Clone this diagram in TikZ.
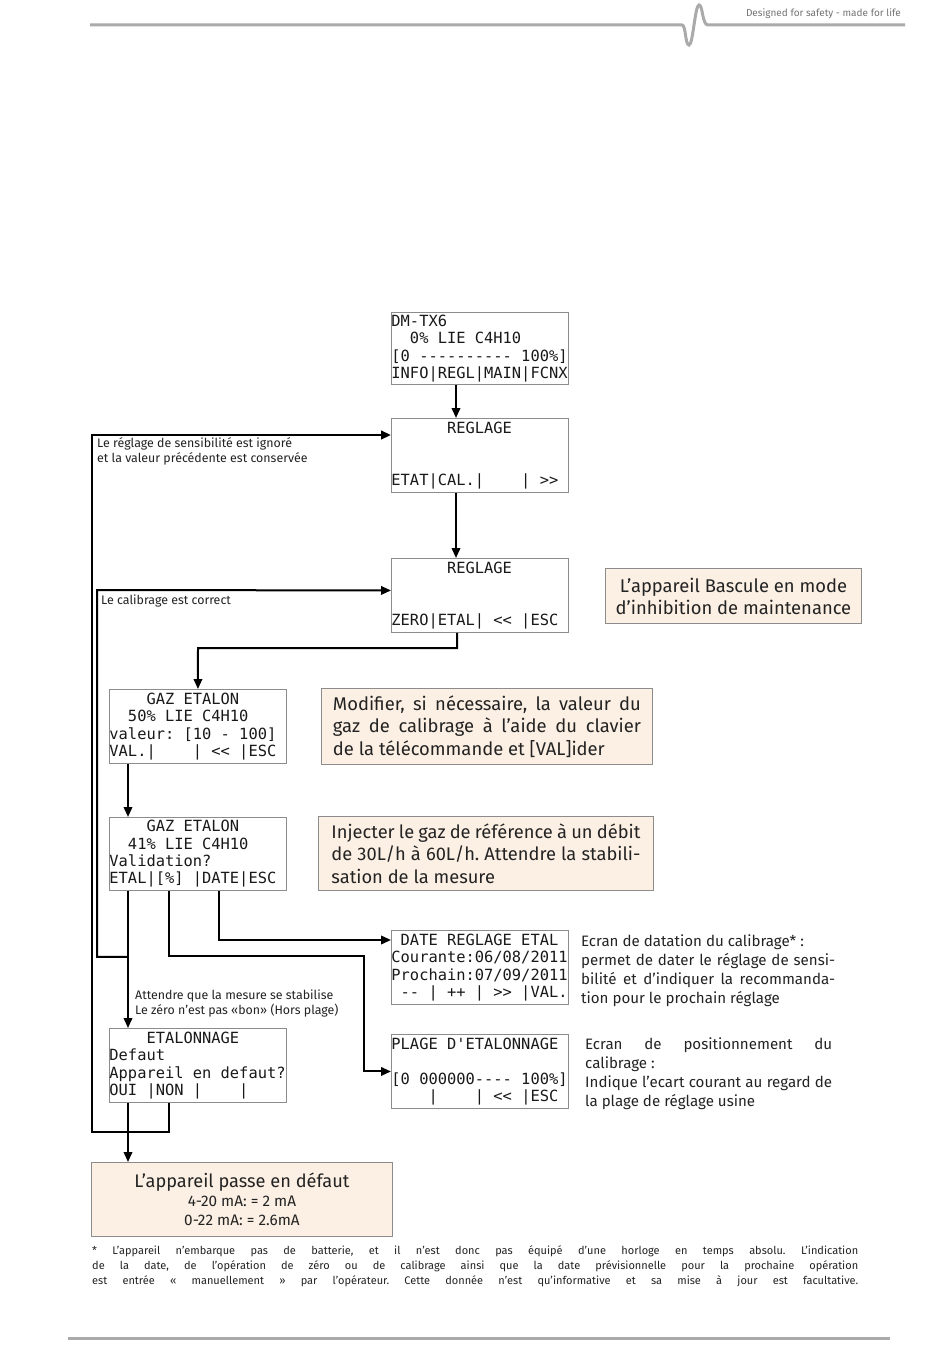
\documentclass[tikz,border=0pt]{standalone}
\usepackage{fontspec}
\setmainfont{Fira Sans}
\setmonofont{DejaVu Sans Mono}
\usetikzlibrary{arrows.meta,calc}
\definecolor{beige}{RGB}{252,240,228}
\definecolor{boxgray}{RGB}{140,140,140}
\definecolor{hdrgray}{RGB}{170,170,170}
\definecolor{txt}{RGB}{35,35,35}
\newcommand{\lsp}{\phantom{0}}
\begin{document}
\frenchspacing
\begin{tikzpicture}[x=1pt,y=-1pt,
  lcd/.style={draw=boxgray, line width=0.9pt, anchor=north west, minimum width=177pt,
    minimum height=74pt, inner xsep=0pt, inner ysep=0pt, text width=177pt, align=left,
    font=\ttfamily\fontsize{15.4}{17.4}\selectfont, text=black!90},
  note/.style={draw=boxgray, fill=beige, line width=0.9pt, anchor=north west, inner ysep=0pt,
    text=txt},
  conn/.style={line width=2pt},
  arr/.style={conn, -{Triangle[length=10pt,width=8.5pt]}},
  lbl/.style={font=\fontsize{12.4}{15}\selectfont, anchor=north west, inner sep=0pt, align=left, text=txt},
  side/.style={font=\fontsize{15.1}{19}\selectfont, anchor=north west, inner sep=0pt, align=left, text=txt},
]
\fill[white] (0,0) rectangle (950,1370);
\useasboundingbox (0,0) rectangle (950,1370);

% header and footer rules
\draw[hdrgray, line width=3pt] (90,25) -- (682,25)
  .. controls (686,25) and (685,45) .. (689,45)
  .. controls (693,45) and (695,5) .. (699,5)
  .. controls (703,5) and (702,25) .. (708,25) -- (905,25);
\node[anchor=east, inner sep=0pt, font=\fontsize{10}{11}\selectfont, text=black!55] (hdr) at (901,14) {Designed for safety - made for life};
\draw[hdrgray, line width=3pt] (68,1338) -- (890,1338);

% LCD screens
\node[lcd, minimum height=72pt] (b1) at (391,312)
  {DM-TX6\\\lsp\lsp0\%\lsp LIE\lsp C4H10\\{[}0\lsp----------\lsp100\%{]}\\INFO|REGL|MAIN|FCNX};
\node[lcd] (b2) at (391,418)
  {\lsp\lsp\lsp\lsp\lsp\lsp REGLAGE\\\mbox{}\\\mbox{}\\ETAT|CAL.|\lsp\lsp\lsp\lsp|\lsp>>};
\node[lcd] (b3) at (391,558)
  {\lsp\lsp\lsp\lsp\lsp\lsp REGLAGE\\\mbox{}\\\mbox{}\\ZERO|ETAL|\lsp<<\lsp|ESC};
\node[lcd] (b4) at (109,689)
  {\lsp\lsp\lsp\lsp GAZ\lsp ETALON\\\lsp\lsp50\%\lsp LIE\lsp C4H10\\valeur:\lsp{[}10\lsp-\lsp100{]}\\VAL.|\lsp\lsp\lsp\lsp|\lsp<<\lsp|ESC};
\node[lcd, minimum height=73pt] (b5) at (109,817)
  {\lsp\lsp\lsp\lsp GAZ\lsp ETALON\\\lsp\lsp41\%\lsp LIE\lsp C4H10\\Validation?\\ETAL|{[}\%{]}\lsp|DATE|ESC};
\node[lcd] (b6) at (391,930)
  {\lsp DATE\lsp REGLAGE\lsp ETAL\\Courante:06/08/2011\\Prochain:07/09/2011\\\lsp--\lsp|\lsp++\lsp|\lsp>>\lsp|VAL.};
\node[lcd] (b7) at (109,1028)
  {\lsp\lsp\lsp\lsp ETALONNAGE\\Defaut\\Appareil\lsp en\lsp defaut?\\OUI\lsp|NON\lsp|\lsp\lsp\lsp\lsp|};
\node[lcd] (b8) at (391,1034)
  {PLAGE\lsp D'ETALONNAGE\\\mbox{}\\{[}0\lsp000000----\lsp100\%{]}\\\lsp\lsp\lsp\lsp|\lsp\lsp\lsp\lsp|\lsp<<\lsp|ESC};

% beige notes
\node[note, minimum width=256pt, minimum height=55pt, align=center,
  font=\fontsize{18.4}{22}\selectfont] (n1) at (605,568)
  {L'appareil Bascule en mode\\d'inhibition de maintenance};
\node[note, minimum width=331pt, minimum height=76pt, inner xsep=0pt, align=left,
  font=\fontsize{18.4}{22.5}\selectfont] (n2) at (321,688)
  {\makebox[308pt][s]{Modifier, si nécessaire, la valeur du}\\
   \makebox[308pt][s]{gaz de calibrage à l'aide du clavier}\\
   de la télécommande et [VAL]ider};
\node[note, minimum width=335pt, minimum height=74pt, inner xsep=0pt, align=left,
  font=\fontsize{18.3}{22.5}\selectfont] (n3) at (318,816)
  {\makebox[309pt][s]{Injecter le gaz de référence à un débit}\\
   \makebox[309pt][s]{de 30L/h à 60L/h. Attendre la stabili-}\\
   sation de la mesure};
\node[note, minimum width=301pt, minimum height=74pt, align=center,
  font=\fontsize{15.3}{19}\selectfont] (fin) at (91,1162)
  {{\fontsize{18.2}{19}\selectfont L'appareil passe en défaut}\\4-20 mA: = 2 mA\\0-22 mA: = 2.6mA};

% side texts
\node[side] (r1) at (581,934.5)
  {Ecran de datation du calibrage* :\\
   \makebox[254pt][s]{permet de dater le réglage de sensi-}\\
   \makebox[254pt][s]{bilité et d'indiquer la recommanda-}\\
   tion pour le prochain réglage};
\node[side] (r2) at (585,1037.5)
  {\makebox[247pt][s]{Ecran de positionnement du}\\
   calibrage :\\
   \makebox[247pt][s]{Indique l'ecart courant au regard de}\\
   la plage de réglage usine};

% connector labels
\node[lbl] (t1) at (97,437) {Le réglage de sensibilité est ignoré\\et la valeur précédente est conservée};
\node[lbl] (t2) at (101,595) {Le calibrage est correct};
\node[lbl] (t3) at (135,990) {Attendre que la mesure se stabilise\\Le zéro n'est pas «bon» (Hors plage)};

% footnote
\node[anchor=north west, inner sep=0pt, align=left, text=txt, font=\fontsize{11}{15}\selectfont] (fn) at (92,1245)
  {\makebox[766pt][s]{* L'appareil n'embarque pas de batterie, et il n'est donc pas équipé d'une horloge en temps absolu. L'indication}\\
   \makebox[766pt][s]{de la date, de l'opération de zéro ou de calibrage ainsi que la date prévisionnelle pour la prochaine opération}\\
   \makebox[766pt][s]{est entrée « manuellement » par l'opérateur. Cette donnée n'est qu'informative et sa mise à jour est facultative.}};

% connectors
\coordinate (k3) at (198,648);
\coordinate (k1) at (364,956);
\coordinate (k2) at (97,590);
\coordinate (k4) at (92,1132);
\coordinate (j1) at ($(b5.south west)+(19,66)$);

\draw[arr] ($(b1.south west)+(65,0)$) -- ($(b2.north west)+(65,0)$);
\draw[arr] ($(b2.south west)+(65,0)$) -- ($(b3.north west)+(65,0)$);
\draw[arr] ($(b3.south west)+(66,0)$) |- (k3) -- (b4.north);
\draw[arr] ($(b4.south west)+(19,0)$) -- ($(b5.north west)+(19,0)$);
\draw[arr] ($(b5.south west)+(110,0)$) |- ($(b6.north west)+(0,10)$);
\draw[arr] ($(b5.south west)+(60,0)$) |- (k1) |- (b8.west);
\draw[arr] ($(b5.south west)+(19,0)$) -- ($(b7.north west)+(19,0)$);
\draw[arr] (j1) -| (k2) -- ($(b3.west)+(0,-5)$);
\draw[arr] ($(b7.south west)+(19,0)$) -- ($(fin.north west)+(37,0)$);
\draw[arr, line width=2.6pt] ($(b7.south west)+(60,0)$) |- (k4) |- ($(b2.north west)+(0,17)$);
\end{tikzpicture}
\end{document}
